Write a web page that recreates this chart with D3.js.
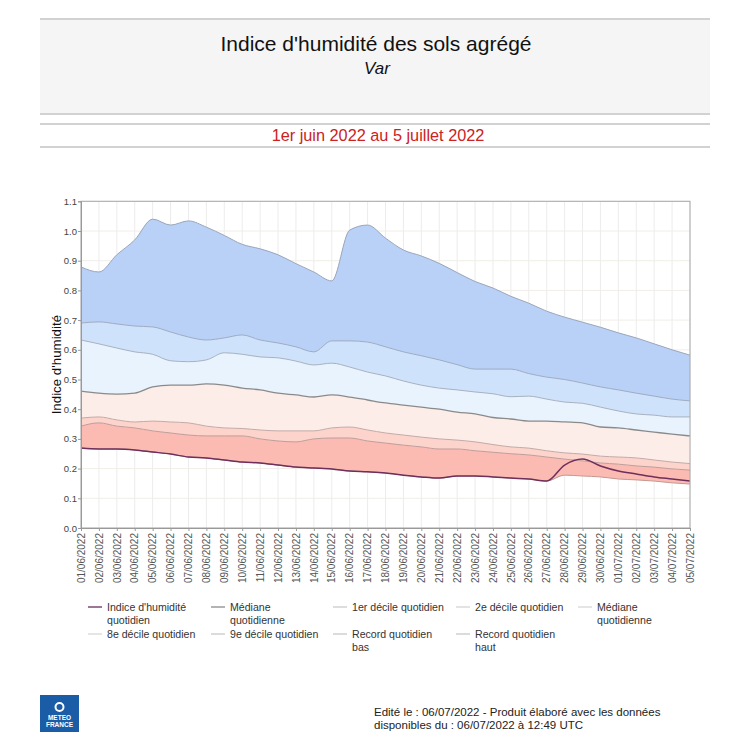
<!DOCTYPE html>
<html><head><meta charset="utf-8">
<script src="https://cdn.jsdelivr.net/npm/d3@7"></script>
<style>
html,body{margin:0;padding:0;background:#fff;}
svg{display:block;font-family:"Liberation Sans",Arial,sans-serif;}
</style></head><body>
<svg id="c" width="750" height="750"></svg>
<script>
const dates = ["01/06/2022","02/06/2022","03/06/2022","04/06/2022","05/06/2022","06/06/2022","07/06/2022","08/06/2022","09/06/2022","10/06/2022","11/06/2022","12/06/2022","13/06/2022","14/06/2022","15/06/2022","16/06/2022","17/06/2022","18/06/2022","19/06/2022","20/06/2022","21/06/2022","22/06/2022","23/06/2022","24/06/2022","25/06/2022","26/06/2022","27/06/2022","28/06/2022","29/06/2022","30/06/2022","01/07/2022","02/07/2022","03/07/2022","04/07/2022","05/07/2022"];
const recordHaut = [0.879,0.862,0.92,0.97,1.04,1.02,1.034,1.013,0.985,0.955,0.94,0.92,0.89,0.862,0.832,1.003,1.02,0.976,0.936,0.916,0.891,0.86,0.83,0.808,0.78,0.757,0.73,0.71,0.693,0.676,0.657,0.64,0.62,0.60,0.582];
const decile9 = [0.69,0.694,0.687,0.68,0.677,0.66,0.643,0.633,0.64,0.65,0.633,0.623,0.61,0.593,0.63,0.63,0.626,0.61,0.593,0.58,0.566,0.55,0.535,0.535,0.535,0.52,0.508,0.50,0.488,0.475,0.465,0.454,0.444,0.434,0.428];
const decile8 = [0.633,0.62,0.606,0.593,0.585,0.563,0.56,0.566,0.59,0.585,0.576,0.573,0.562,0.549,0.555,0.542,0.525,0.512,0.495,0.481,0.471,0.465,0.458,0.452,0.442,0.444,0.434,0.424,0.42,0.407,0.394,0.384,0.38,0.374,0.374];
const mediane = [0.461,0.454,0.451,0.454,0.475,0.481,0.481,0.485,0.481,0.471,0.465,0.454,0.448,0.441,0.448,0.441,0.431,0.421,0.414,0.407,0.40,0.39,0.384,0.372,0.367,0.36,0.36,0.357,0.354,0.34,0.337,0.33,0.323,0.316,0.31];
const decile2 = [0.37,0.374,0.364,0.357,0.36,0.357,0.354,0.343,0.337,0.335,0.33,0.327,0.327,0.327,0.337,0.34,0.33,0.32,0.313,0.306,0.30,0.296,0.29,0.281,0.273,0.269,0.26,0.253,0.249,0.242,0.239,0.236,0.229,0.222,0.217];
const decile1 = [0.343,0.354,0.343,0.337,0.327,0.32,0.313,0.31,0.31,0.31,0.30,0.293,0.29,0.30,0.303,0.303,0.293,0.286,0.279,0.273,0.266,0.266,0.26,0.255,0.25,0.246,0.239,0.232,0.226,0.219,0.215,0.209,0.205,0.199,0.195];
const recordBas = [0.269,0.266,0.266,0.263,0.256,0.249,0.239,0.236,0.229,0.222,0.219,0.212,0.205,0.202,0.199,0.192,0.189,0.185,0.178,0.172,0.168,0.175,0.175,0.172,0.168,0.165,0.158,0.178,0.175,0.172,0.165,0.162,0.158,0.152,0.148];
const indice = [0.269,0.266,0.266,0.263,0.256,0.249,0.239,0.236,0.229,0.222,0.219,0.212,0.205,0.202,0.199,0.192,0.189,0.185,0.178,0.172,0.168,0.175,0.175,0.172,0.168,0.165,0.158,0.212,0.232,0.209,0.192,0.182,0.172,0.165,0.158];
const yTicks = [0.0,0.1,0.2,0.3,0.4,0.5,0.6,0.7,0.8,0.9,1.0,1.1];
const legendLabels = ["Indice d'humidité quotidien","Médiane quotidienne","1er décile quotidien","2e décile quotidien","Médiane quotidienne","8e décile quotidien","9e décile quotidien","Record quotidien bas","Record quotidien haut"];
const legendColors = ["#7a4a6c","#9a9a9a","#d2d2d2","#dadada","#dcdcdc","#dcdcdc","#cfcfcf","#cfcfcf","#cfcfcf"];
const titleText = "Indice d'humidité des sols agrégé";
const subTitleText = "Var";
const periodText = "1er juin 2022 au 5 juillet 2022";
const yAxisTitle = "Indice d'humidité";
const footerLines = ["Edité le : 06/07/2022 - Produit élaboré avec les données","disponibles du : 06/07/2022 à 12:49 UTC"];

const svg = d3.select("#c");
// Header
svg.append("rect").attr("x",40).attr("y",19).attr("width",670).attr("height",95).attr("fill","#f5f5f5");
[19,114,124,147].forEach(y=>svg.append("line").attr("x1",40).attr("x2",710).attr("y1",y).attr("y2",y).attr("stroke","#d2d2d2").attr("stroke-width",2));
svg.append("text").attr("x",376).attr("y",51).attr("text-anchor","middle").attr("font-size",21).attr("fill","#111").text(titleText);
svg.append("text").attr("x",377).attr("y",74).attr("text-anchor","middle").attr("font-size",17).attr("font-style","italic").attr("fill","#111").text(subTitleText);
svg.append("text").attr("x",378).attr("y",141).attr("text-anchor","middle").attr("font-size",16.3).attr("fill","#cc2222").text(periodText);

// Plot
const L=81, R=690, T=201.3, B=528;
const x = d3.scalePoint().domain(dates).range([L,R]);
const y = d3.scaleLinear().domain([0,1.1]).range([B,T]);
const g = svg.append("g");
// grid
g.selectAll(".vg").data(dates).enter().append("line")
  .attr("x1",d=>x(d)).attr("x2",d=>x(d)).attr("y1",T).attr("y2",B).attr("stroke","#ececec");
g.selectAll(".hg").data(yTicks).enter().append("line")
  .attr("x1",L).attr("x2",R).attr("y1",d=>y(d)).attr("y2",d=>y(d)).attr("stroke","#f1eee8");

const idx = d3.range(dates.length);
const bands = [
  [recordBas, decile1, "#fbbbb3"],
  [decile1, decile2, "#fcd4cc"],
  [decile2, mediane, "#fdede8"],
  [mediane, decile8, "#e9f3fe"],
  [decile8, decile9, "#cfe2fc"],
  [decile9, recordHaut, "#b9d0f7"]
];
const curve = d3.curveMonotoneX;
bands.forEach(([lo,hi,col])=>{
  g.append("path").attr("d", d3.area().curve(curve).x(i=>x(dates[i])).y0(i=>y(lo[i])).y1(i=>y(hi[i]))(idx))
   .attr("fill",col).attr("stroke","none");
});
const lineOf = (arr)=>d3.line().curve(curve).x(i=>x(dates[i])).y(i=>y(arr[i]))(idx);
[[recordHaut,"#9aa6ba",1],[decile9,"#9eacc2",1],[decile8,"#a7b1c0",1],[mediane,"#8a8a8a",1.3],[decile2,"#c4aaa6",1],[decile1,"#bf9d99",1],[recordBas,"#c49890",1],[indice,"#6d2f5c",1.5]]
.forEach(([arr,col,w])=>g.append("path").attr("d",lineOf(arr)).attr("fill","none").attr("stroke",col).attr("stroke-width",w));

// frame
svg.append("rect").attr("x",L).attr("y",T).attr("width",R-L).attr("height",B-T).attr("fill","none").attr("stroke","#a8a8a8").attr("stroke-width",1);

// axes
const ya = svg.append("g").attr("transform",`translate(${L},0)`)
  .call(d3.axisLeft(y).tickValues(yTicks).tickFormat(d3.format(".1f")).tickSize(3).tickPadding(1));
ya.select(".domain").attr("stroke","#999");
ya.selectAll(".tick line").attr("stroke","#999");
ya.selectAll("text").attr("font-size",9.5).attr("fill","#444").attr("font-family","Liberation Sans, Arial, sans-serif");

const xa = svg.append("g").attr("transform",`translate(0,${B})`)
  .call(d3.axisBottom(x).tickSize(3).tickPadding(2));
xa.select(".domain").attr("stroke","#999");
xa.selectAll(".tick line").attr("stroke","#999");
xa.selectAll("text").attr("font-size",10).attr("fill","#555").attr("font-family","Liberation Sans, Arial, sans-serif")
  .attr("transform","rotate(-90)").attr("text-anchor","end").attr("dy","0.32em").attr("x",-5).attr("y",0);

svg.append("text").attr("transform",`translate(61,${(T+B)/2}) rotate(-90)`).attr("text-anchor","middle")
  .attr("font-size",13.3).attr("fill","#111").text(yAxisTitle);

// legend
const colX = [88,211,333,456,578];
legendLabels.forEach((lab,i)=>{
  const cx = colX[i%5], ry = i<5 ? 611 : 638;
  const lg = svg.append("g");
  lg.append("line").attr("x1",cx).attr("x2",cx+14).attr("y1",ry-4).attr("y2",ry-4).attr("stroke",legendColors[i]).attr("stroke-width",1.5);
  const t = lg.append("text").attr("x",cx+19).attr("y",ry).attr("font-size",10.6).attr("fill","#333");
  const words = lab.split(" ");
  let line=[], ts = t.append("tspan").attr("x",cx+19).attr("dy",0);
  words.forEach(w=>{
    line.push(w); ts.text(line.join(" "));
    if(ts.node().getComputedTextLength()>96 && line.length>1){
      line.pop(); ts.text(line.join(" ")); line=[w];
      ts = t.append("tspan").attr("x",cx+19).attr("dy",13).text(w);
    }
  });
});

// footer logo
svg.append("rect").attr("x",40).attr("y",695).attr("width",39).attr("height",37).attr("fill","#1a5ca6");
svg.append("circle").attr("cx",59.5).attr("cy",707).attr("r",4).attr("fill","none").attr("stroke","#fff").attr("stroke-width",2);
svg.append("text").attr("x",59.5).attr("y",720).attr("text-anchor","middle").attr("font-size",6.5).attr("font-weight","bold").attr("fill","#fff").text("METEO");
svg.append("text").attr("x",59.5).attr("y",727).attr("text-anchor","middle").attr("font-size",6.5).attr("font-weight","bold").attr("fill","#fff").text("FRANCE");
footerLines.forEach((l,i)=>svg.append("text").attr("x",374).attr("y",716+i*13).attr("font-size",11.5).attr("fill","#222").text(l));
</script></body></html>
